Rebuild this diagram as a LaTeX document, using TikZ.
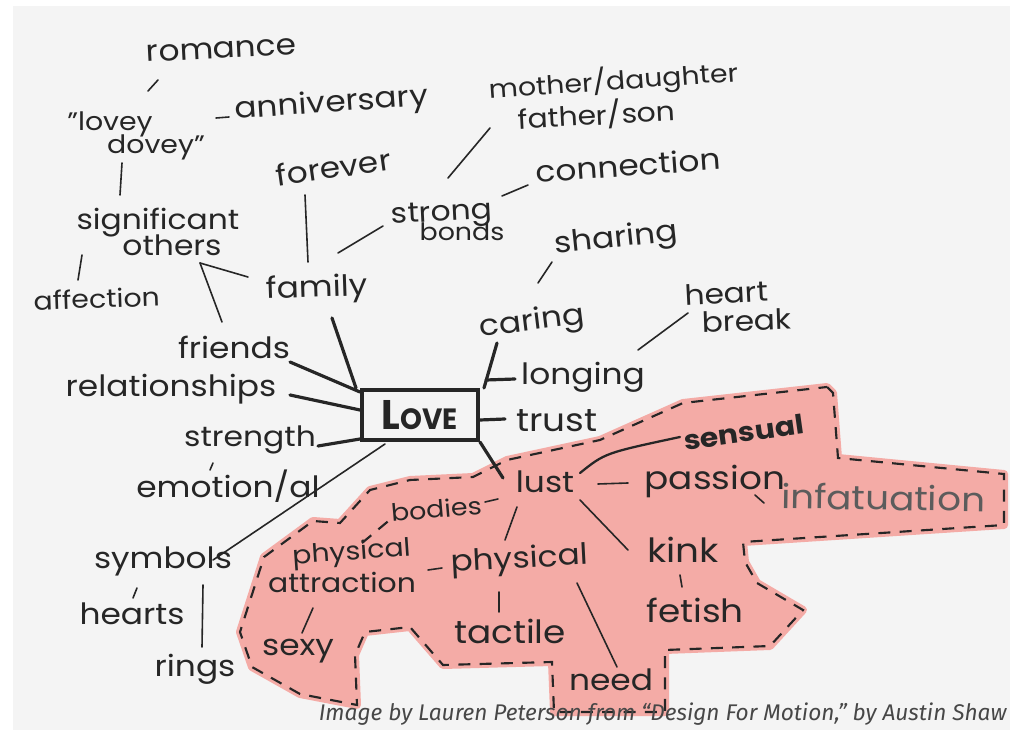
\documentclass[tikz,border=0pt]{standalone}
\usepackage{fontspec}
\setmainfont{Poppins}[FakeStretch=1.12]
\newfontfamily\capfont{Fira Sans}
\newfontfamily\boxfont{Poppins}[FakeStretch=0.95]
\usetikzlibrary{calc}
\newcommand\fs[1]{\fontsize{#1}{#1}\selectfont}
\definecolor{ink}{HTML}{262626}
\definecolor{paper}{HTML}{F4F4F4}
\definecolor{blush}{HTML}{F4ABA6}
\begin{document}
\begin{tikzpicture}[x=0.75pt,y=-0.75pt,
  word/.style={anchor=base,inner sep=1pt,text=ink,font=\fs{22}},
  conn/.style={draw=ink,line width=1.2pt,line cap=round},
  spoke/.style={draw=ink,line width=2.4pt,line cap=round},
  dashline/.style={draw=ink,line width=1.6pt,dash pattern=on 9pt off 7pt}]
\useasboundingbox (0,0) rectangle (1021,730);
\fill[white] (0,0) rectangle (1021,730);
\fill[paper] (13,6) rectangle (1010,730);
% pink region
\path[fill=blush,draw=blush,line width=6pt,line join=round]
 (827,387) -- (833,393) -- (838,458) -- (1004,474) -- (1004,525) -- (743,542) -- (745,562) -- (757,583) -- (803,610) -- (770,646) -- (665,650) -- (665,712) -- (554,712) -- (552,662) -- (443,665) -- (410,627) -- (365,632) -- (355,655) -- (357,705) -- (300,694) -- (252,667) -- (240,632) -- (264,557) -- (313,521) -- (340,523) -- (370,490) -- (410,480) -- (473,477) -- (507,460) -- (600,440) -- (683,403) -- cycle;
\draw[dashline]
 (827,387) -- (833,393) -- (838,458) -- (1004,474) -- (1004,525) -- (743,542) -- (745,562) -- (757,583) -- (803,610) -- (770,646) -- (665,650) -- (665,712) -- (554,712) -- (552,662) -- (443,665) -- (410,627) -- (365,632) -- (355,655) -- (357,705) -- (300,694) -- (252,667) -- (240,632) -- (264,557) -- (313,521) -- (340,523) -- (370,490) -- (410,480) -- (473,477) -- (507,460) -- (600,440) -- (683,403) -- cycle;
\draw[dashline] (362,543) -- (392,518);

% words
\node[word,rotate=3] (romance) at (222,58) {romance};
\node[word,font=\fs{19}] (lovey1) at (110,131) {"lovey};
\node[word,font=\fs{19}] (lovey2) at (156,154) {dovey"};
\node[word,rotate=4] (anniv) at (332,112) {anniversary};
\node[word,font=\fs{19},rotate=4] (md1) at (614,90) {mother/daughter};
\node[word,font=\fs{20},rotate=3] (md2) at (597,125) {father/son};
\node[word,rotate=8] (forever) at (335,178) {forever};
\node[word,font=\fs{21},rotate=3] (strong) at (442,221) {strong};
\node[word,font=\fs{18}] (bonds) at (462,241) {bonds};
\node[word,rotate=4] (connection) at (629,176) {connection};
\node[word,font=\fs{21}] (signif) at (158,230) {significant};
\node[word,font=\fs{21}] (others) at (172,256) {others};
\node[word,font=\fs{19},rotate=2] (affection) at (97,308) {affection};
\node[word,rotate=2] (family) at (317,297) {family};
\node[word,rotate=6] (sharing) at (617,247) {sharing};
\node[word,rotate=7] (caring) at (533,330) {caring};
\node[word,font=\fs{21},rotate=3] (heart) at (727,303) {heart};
\node[word,font=\fs{21},rotate=2] (break) at (747,331) {break};
\node[word] (friends) at (234,359) {friends};
\node[word] (relationships) at (171,397) {relationships};
\node[word] (longing) at (583,385) {longing};
\node[draw=ink,line width=3pt,minimum width=87pt,minimum height=37.5pt,inner sep=0pt,text=ink] (love) at (420,415) {\boxfont\bfseries\fs{31}L\fs{22}OVE};
\node[word,font=\fs{24}] (trust) at (557,432) {trust};
\node[word,font=\fs{21}] (strength) at (250,447) {strength};
\node[word] (emotion) at (228,498) {emotion/al};
\node[word,font=\bfseries\fs{20},rotate=8] (sensual) at (745,442) {sensual};
\node[word] (lust) at (545,493) {lust};
\node[word,font=\fs{24}] (passion) at (715,490) {passion};
\node[word,font=\fs{18},rotate=5] (bodies) at (437,518) {bodies};
\node[word,font=\fs{25},text=ink!75,rotate=-1] (infat) at (883,510) {infatuation};
\node[word] (symbols) at (163,569) {symbols};
\node[word,font=\fs{19},rotate=4] (phys1) at (352,560) {physical};
\node[word,font=\fs{20}] (attraction) at (342,592) {attraction};
\node[word,rotate=3] (phys2) at (520,568) {physical};
\node[word,font=\fs{25}] (kink) at (683,562) {kink};
\node[word] (hearts) at (132,624) {hearts};
\node[word,font=\fs{24}] (fetish) at (695,622) {fetish};
\node[word] (sexy) at (298,655) {sexy};
\node[word,font=\fs{24}] (tactile) at (510,643) {tactile};
\node[word] (rings) at (195,676) {rings};
\node[word] (need) at (611,690) {need};
\node[anchor=base east,inner sep=0pt,text=ink!85,font=\capfont\itshape\fs{17}] (caption) at (1007,720) {Image by Lauren Peterson from “Design For Motion,” by Austin Shaw};

% connectors
\draw[conn] ($(romance.base)+(-64,22)$) -- ($(lovey1.base)+(38,-40)$);
\draw[conn] ($(lovey2.base)+(60,-36)$) -- ($(anniv.base)+(-103,5)$);
\draw[conn] ($(lovey1.base)+(12,32)$) -- ($(signif.base)+(-38,-35)$);
\draw[conn] ($(signif.base)+(-76,25)$) -- ($(affection.base)+(-19,-28)$);
\draw[conn] ($(others.base)+(28,7)$) -- ($(family.base)+(-69,-20)$);
\draw[conn] ($(others.base)+(28,7)$) -- ($(friends.base)+(-12,-37)$);
\draw[conn] ($(forever.base)+(-30,17)$) -- ($(family.base)+(-9,-35)$);
\draw[conn] ($(family.base)+(21,-44)$) -- ($(strong.base)+(-59,5)$);
\draw[conn] ($(strong.base)+(6,-43)$) -- ($(md2.base)+(-107,3)$);
\draw[conn] ($(strong.base)+(60,-25)$) -- ($(connection.base)+(-101,9)$);
\draw[spoke] ($(family.base)+(15,21)$) -- ($(love.north west)+(-4,0)$);
\draw[spoke] ($(friends.base)+(56,3)$) -- ($(love.north west)+(0,4)$);
\draw[spoke] ($(relationships.base)+(119,-2)$) -- ($(love.west)+(0,-5)$);
\draw[spoke] ($(strength.base)+(68,-1)$) -- ($(love.south west)+(0,-3)$);
\draw[conn] ($(love.south west)+(25,2)$) -- ($(symbols.base)+(50,-9)$);
\draw[conn] ($(strength.base)+(-37,16)$) -- ($(emotion.base)+(-18,-28)$);
\draw[spoke] ($(caring.base)+(-36,13)$) -- ($(love.north east)+(4,0)$);
\draw[spoke] ($(longing.base)+(-68,-6)$) -- ($(love.north east)+(6,-8)$);
\draw[spoke] ($(trust.base)+(-52,-13)$) -- ($(love.east)+(0,5)$);
\draw[spoke] (love.south east) -- ($(lust.base)+(-42,-15)$);
\draw[conn] ($(caring.base)+(5,-47)$) -- ($(sharing.base)+(-65,15)$);
\draw[conn] ($(longing.base)+(55,-35)$) -- ($(heart.base)+(-39,10)$);
\draw[conn,line width=1.7pt] ($(lust.base)+(35,-20)$) .. controls ($(lust.base)+(60,-40)$) .. ($(sensual.base)+(-65,-5)$);
\draw[conn] ($(lust.base)+(53,-9)$) -- ($(passion.base)+(-87,-7)$);
\draw[conn] ($(bodies.base)+(48,-16)$) -- ($(lust.base)+(-47,6)$);
\draw[conn] ($(passion.base)+(40,5)$) -- ($(infat.base)+(-119,-7)$);
\draw[conn] ($(lust.base)+(-28,14)$) -- ($(phys2.base)+(-15,-28)$);
\draw[conn] ($(lust.base)+(35,7)$) -- ($(kink.base)+(-55,-12)$);
\draw[conn] ($(attraction.base)+(86,-22)$) -- ($(phys2.base)+(-78,0)$);
\draw[conn] ($(phys2.base)+(-21,24)$) -- ($(tactile.base)+(-11,-31)$);
\draw[conn] ($(phys2.base)+(57,15)$) -- ($(need.base)+(6,-23)$);
\draw[conn] ($(kink.base)+(-3,13)$) -- ($(fetish.base)+(-13,-35)$);
\draw[conn] ($(attraction.base)+(-29,16)$) -- ($(sexy.base)+(4,-22)$);
\draw[conn] ($(symbols.base)+(-26,19)$) -- ($(hearts.base)+(1,-26)$);
\draw[conn] ($(symbols.base)+(40,16)$) -- ($(rings.base)+(7,-29)$);
\end{tikzpicture}
\end{document}
